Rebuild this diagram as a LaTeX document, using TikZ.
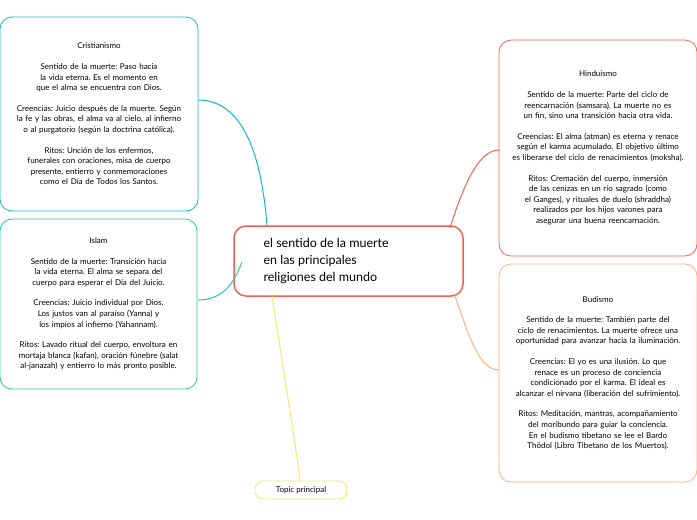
\documentclass[tikz,border=0pt]{standalone}
\usepackage{fontspec}
\setmainfont{Lato}
\frenchspacing
\begin{document}
\hyphenpenalty=10000\exhyphenpenalty=10000
\begin{tikzpicture}[x=1pt,y=-1pt,
 box/.style={draw,line width=0.8pt,rounded corners=12pt,fill=white,align=center,font=\fontsize{8}{10.6}\selectfont,inner sep=3pt,text width=#1},
 conn/.style={line width=1pt}]
\useasboundingbox[fill=white] (0,0) rectangle (697,520);
\definecolor{ccy}{HTML}{12B8D0}\definecolor{cgr}{HTML}{2CC79A}
\definecolor{crd}{HTML}{EC6257}\definecolor{cor}{HTML}{FFB27A}\definecolor{cye}{HTML}{F2EA6A}
\node (m) [draw=crd,line width=1.5pt,rounded corners=12pt,minimum width=229pt,minimum height=70pt,fill=white] at (348.5,261) {};
\node [align=left,font=\fontsize{12.5}{17}\selectfont,anchor=west] at (260,261) {el sentido de la muerte\\en las principales\\religiones del mundo};
\node (c) [box=165pt,draw=ccy,minimum width=198pt,minimum height=194pt] at (99,114) {Cristianismo\\[10pt]Sentido de la muerte: Paso hacia la vida eterna. Es el momento en que el alma se encuentra con Dios.\\[10pt]Creencias: Juicio después de la muerte. Según la fe y las obras, el alma va al cielo, al infierno o al purgatorio (según la doctrina católica).\\[10pt]Ritos: Unción de los enfermos, funerales con oraciones, misa de cuerpo presente, entierro y conmemoraciones como el Día de Todos los Santos.};
\node (i) [box=172pt,draw=cgr,minimum width=197pt,minimum height=170pt] at (98.5,304) {Islam\\[10pt]Sentido de la muerte: Transición hacia la vida eterna. El alma se separa del cuerpo para esperar el Día del Juicio.\\[10pt]Creencias: Juicio individual por Dios. Los justos van al paraíso (Yanna) y los impíos al infierno (Yahannam).\\[10pt]Ritos: Lavado ritual del cuerpo, envoltura en mortaja blanca (kafan), oración fúnebre (salat al-janazah) y entierro lo más pronto posible.};
\node (h) [box=178pt,draw=crd,minimum width=198pt,minimum height=216pt] at (598,148) {Hinduismo\\[10pt]Sentido de la muerte: Parte del ciclo de reencarnación (samsara). La muerte no es un fin, sino una transición hacia otra vida.\\[10pt]Creencias: El alma (atman) es eterna y renace según el karma acumulado. El objetivo último es liberarse del ciclo de renacimientos (moksha).\\[10pt]Ritos: Cremación del cuerpo, inmersión de las cenizas en un río sagrado (como el Ganges), y rituales de duelo (shraddha) realizados por los hijos varones para asegurar una buena reencarnación.};
\node (b) [box=178pt,draw=cor,minimum width=198pt,minimum height=218pt] at (598,373) {Budismo\\[10pt]Sentido de la muerte: También parte del ciclo de renacimientos. La muerte ofrece una oportunidad para avanzar hacia la iluminación.\\[10pt]Creencias: El yo es una ilusión. Lo que renace es un proceso de conciencia condicionado por el karma. El ideal es alcanzar el nirvana (liberación del sufrimiento).\\[10pt]Ritos: Meditación, mantras, acompañamiento del moribundo para guiar la conciencia. En el budismo tibetano se lee el Bardo Thödol (Libro Tibetano de los Muertos).};
\node (t) [draw=cye,line width=0.8pt,rounded corners=8pt,minimum width=92pt,minimum height=18pt,font=\fontsize{8}{9}\selectfont,fill=white] at (301,490) {Topic principal};
\draw[conn,ccy] (198,100) .. controls (245,100) and (262,160) .. (267,226);
\draw[conn,cgr] (198,300) .. controls (225,300) and (235,280) .. (242,262);
\draw[conn,crd] (450,228) .. controls (465,180) and (480,150) .. (499,150);
\draw[conn,cor] (455,296) .. controls (470,340) and (480,370) .. (499,370);
\draw[conn,cye] (272,296) .. controls (285,380) and (295,440) .. (300,481);
\end{tikzpicture}
\end{document}
